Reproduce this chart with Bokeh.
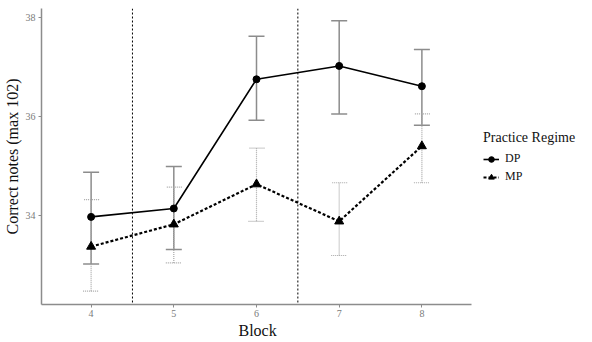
from bokeh.plotting import figure
from bokeh.models import (ColumnDataSource, Whisker, TeeHead, Span, Legend,
                          LegendItem, Range1d, FixedTicker, Title)
from bokeh.embed import file_html
from bokeh.resources import INLINE

blocks = [4, 5, 6, 7, 8]
dp_mean = [33.97, 34.14, 36.75, 37.02, 36.61]
dp_lower = [33.02, 33.31, 35.92, 36.05, 35.82]
dp_upper = [34.87, 34.99, 37.62, 37.93, 37.35]
mp_mean = [33.37, 33.82, 34.63, 33.88, 35.40]
mp_lower = [32.47, 33.04, 33.88, 33.19, 34.66]
mp_upper = [34.32, 34.57, 35.36, 34.66, 36.05]
y_ticks = [34, 36, 38]
phase_breaks = [4.5, 6.5]

SERIF = "Liberation Serif"
GREY = "#8c8c8c"
MPGREY = "#a6a6a6"

# panel spans 3.4..8.6 over 430 px; frame extended to the right to host the legend
AXIS_W = 430
FRAME_W = 542
x0, x1 = 3.4, 8.6
x_end = x0 + (x1 - x0) * FRAME_W / AXIS_W

p = figure(frame_width=FRAME_W, frame_height=296, output_backend="svg",
           toolbar_location=None,
           x_range=Range1d(x0, x_end), y_range=Range1d(32.2, 38.18),
           min_border_left=0, min_border_right=0, min_border_top=8,
           min_border_bottom=0)
p.outline_line_color = None
p.xgrid.visible = False
p.ygrid.visible = False

for ax in (p.xaxis[0], p.yaxis[0]):
    ax.axis_line_color = GREY
    ax.axis_line_width = 1.5
    ax.major_tick_line_color = GREY
    ax.major_tick_out = 3
    ax.major_tick_in = 0
    ax.minor_tick_line_color = None
    ax.major_label_text_font = SERIF
    ax.major_label_text_font_size = "10px"
    ax.major_label_text_color = "#7a7a7a"
    ax.major_label_standoff = 3
    ax.axis_label_text_font = SERIF
    ax.axis_label_text_font_size = "16px"
    ax.axis_label_text_font_style = "normal"
    ax.axis_label_text_color = "#111111"
    ax.axis_label_standoff = 2

p.xaxis.bounds = (x0, x1)
p.xaxis.major_label_standoff = 2
p.xaxis.ticker = FixedTicker(ticks=blocks)
p.yaxis.ticker = FixedTicker(ticks=y_ticks)
p.yaxis.axis_label = "Correct notes (max 102)"

# x-axis title centred under the panel (not under the extended frame)
p.add_layout(Title(text="Block", align="left", offset=197, standoff=0,
                   text_font=SERIF, text_font_size="16px",
                   text_font_style="normal", text_color="#111111"), "below")

for b in phase_breaks:
    p.add_layout(Span(location=b, dimension="height", line_color="black",
                      line_width=1, line_dash="2 2"))

dp_src = ColumnDataSource(dict(x=blocks, y=dp_mean, lo=dp_lower, hi=dp_upper))
mp_src = ColumnDataSource(dict(x=blocks, y=mp_mean, lo=mp_lower, hi=mp_upper))

p.add_layout(Whisker(source=dp_src, base="x", lower="lo", upper="hi",
                     line_color=GREY, line_width=1.5,
                     upper_head=TeeHead(size=16, line_color=GREY, line_width=1.5),
                     lower_head=TeeHead(size=16, line_color=GREY, line_width=1.5)))
p.add_layout(Whisker(source=mp_src, base="x", lower="lo", upper="hi",
                     line_color=MPGREY, line_width=1.2, line_dash="1 1",
                     upper_head=TeeHead(size=16, line_color=MPGREY, line_width=1.2, line_dash="1 1"),
                     lower_head=TeeHead(size=16, line_color=MPGREY, line_width=1.2, line_dash="1 1")))

dp_line = p.line("x", "y", source=dp_src, line_color="black", line_width=1.6)
dp_pts = p.scatter("x", "y", source=dp_src, marker="circle", size=7,
                   fill_color="black", line_color="black")
mp_line = p.line("x", "y", source=mp_src, line_color="black", line_width=2.2,
                 line_dash="3 2")
mp_pts = p.scatter("x", "y", source=mp_src, marker="triangle", size=9,
                   fill_color="black", line_color="black")

legend = Legend(items=[LegendItem(label="DP", renderers=[dp_line, dp_pts]),
                       LegendItem(label="MP", renderers=[mp_line, mp_pts])],
                location=(442, 120), title="Practice Regime",
                title_text_font=SERIF, title_text_font_size="14px",
                title_text_font_style="normal",
                title_text_color="#111111", title_standoff=5,
                label_text_font=SERIF, label_text_font_size="12px",
                label_text_color="#111111", glyph_width=16, glyph_height=14,
                label_height=14, spacing=3, label_standoff=6,
                border_line_color=None, background_fill_alpha=0,
                margin=0, padding=0)
p.add_layout(legend, "center")

open("out.html", "w").write(file_html(p, INLINE))
